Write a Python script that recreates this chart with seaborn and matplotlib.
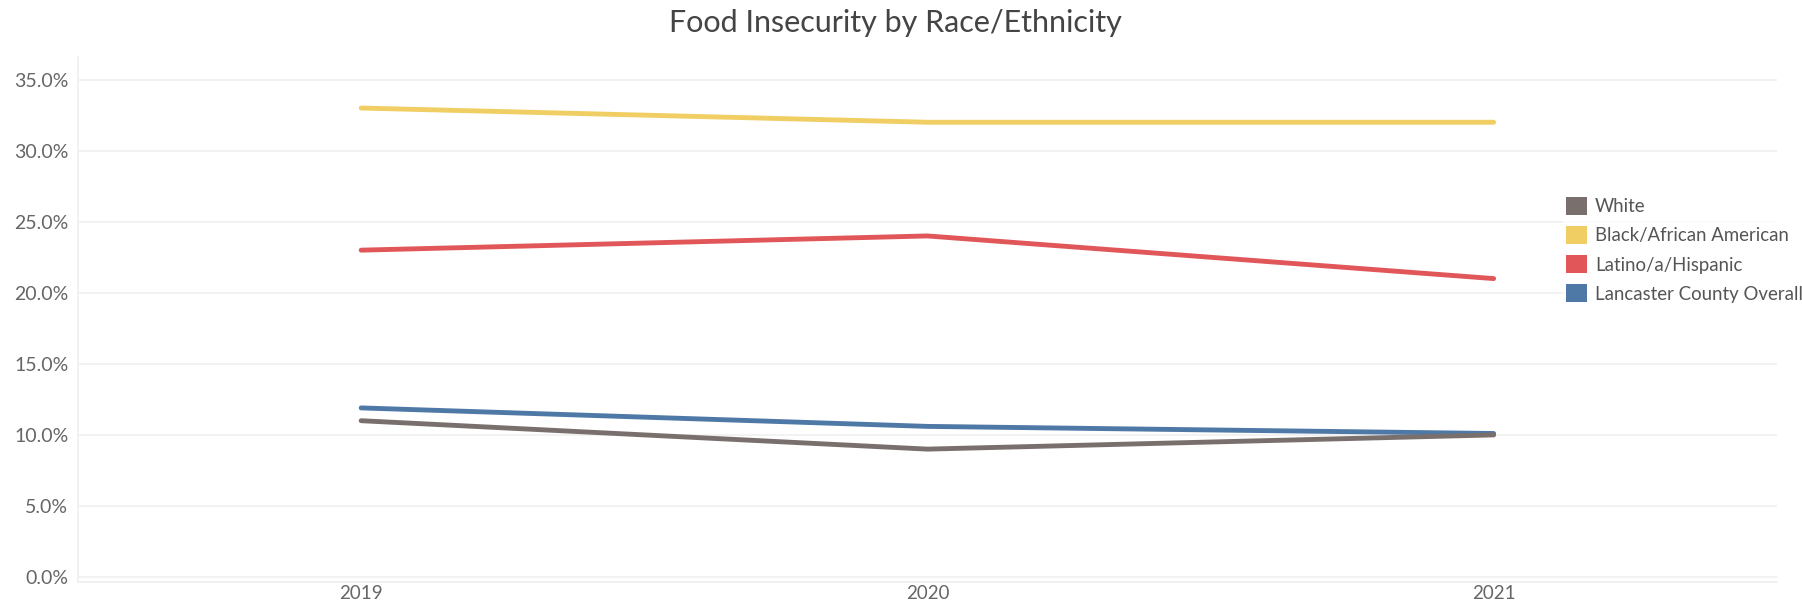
import matplotlib.pyplot as plt
import matplotlib.ticker as mticker
import pandas as pd
import seaborn as sns
from matplotlib.patches import Patch

years = [2019, 2020, 2021]
groups = ["White", "Black/African American", "Latino/a/Hispanic", "Lancaster County Overall"]
white = [11.0, 9.0, 10.0]
black = [33.0, 32.0, 32.0]
latino = [23.0, 24.0, 21.0]
overall = [11.9, 10.6, 10.1]
colors = ["#79706E", "#F1CE63", "#E15759", "#4E79A7"]

sns.set_theme(style="white")
plt.rcParams["font.family"] = ["Lato", "DejaVu Sans"]

rows = []
for name, vals in zip(groups, [white, black, latino, overall]):
    for yr, v in zip(years, vals):
        rows.append({"Year": yr, "Group": name, "Value": v})
df = pd.DataFrame(rows)

fig = plt.figure(figsize=(18.02, 6.05), dpi=100)
ax = fig.add_axes([0.0433, 0.038, 0.9427, 0.868])

# overall drawn first so white sits on top near 2021, like the reference
order = ["Lancaster County Overall", "Latino/a/Hispanic", "Black/African American", "White"]
palette = dict(zip(groups, colors))
for g in order:
    sns.lineplot(data=df[df["Group"] == g], x="Year", y="Value", color=palette[g],
                 linewidth=3.5, ax=ax, legend=False, solid_capstyle="round")

ax.set_xlim(2018.5, 2021.5)
ax.set_ylim(-0.35, 36.6)
ax.set_xticks(years)
ax.set_xticklabels([str(y) for y in years])
ax.set_xticks([2019.5, 2020.5], minor=True)
ax.set_yticks([0, 5, 10, 15, 20, 25, 30, 35])
ax.yaxis.set_major_formatter(mticker.FuncFormatter(lambda v, p: f"{v:.1f}%"))
ax.set_xlabel("")
ax.set_ylabel("")
ax.grid(axis="y", color="#f0f0f0", linewidth=1.2)
ax.set_axisbelow(True)
for s in ["top", "right"]:
    ax.spines[s].set_visible(False)
ax.spines["left"].set_color("#f0f0f0")
ax.spines["bottom"].set_color("#f0f0f0")
ax.tick_params(axis="y", length=0, labelsize=14, labelcolor="#666666", pad=7)
ax.tick_params(axis="x", length=0, labelsize=13.5, labelcolor="#666666", pad=2)
ax.tick_params(axis="x", which="minor", length=4, color="#e6e6e6", direction="out")

handles = [Patch(facecolor=c, edgecolor="none", label=g) for g, c in zip(groups, colors)]
leg = fig.legend(handles=handles, loc="center left", bbox_to_anchor=(0.862, 0.587),
                 frameon=True, fontsize=13.4, handlelength=1.1, handleheight=1.1,
                 handletextpad=0.45, labelspacing=0.58, borderpad=0.2)
leg.get_frame().set_facecolor("white")
leg.get_frame().set_edgecolor("white")
for t in leg.get_texts():
    t.set_color("#555555")

fig.text(0.497, 0.962, "Food Insecurity by Race/Ethnicity", ha="center", va="center",
         fontsize=22, color="#444444")

fig.savefig("out.png", dpi=100)
